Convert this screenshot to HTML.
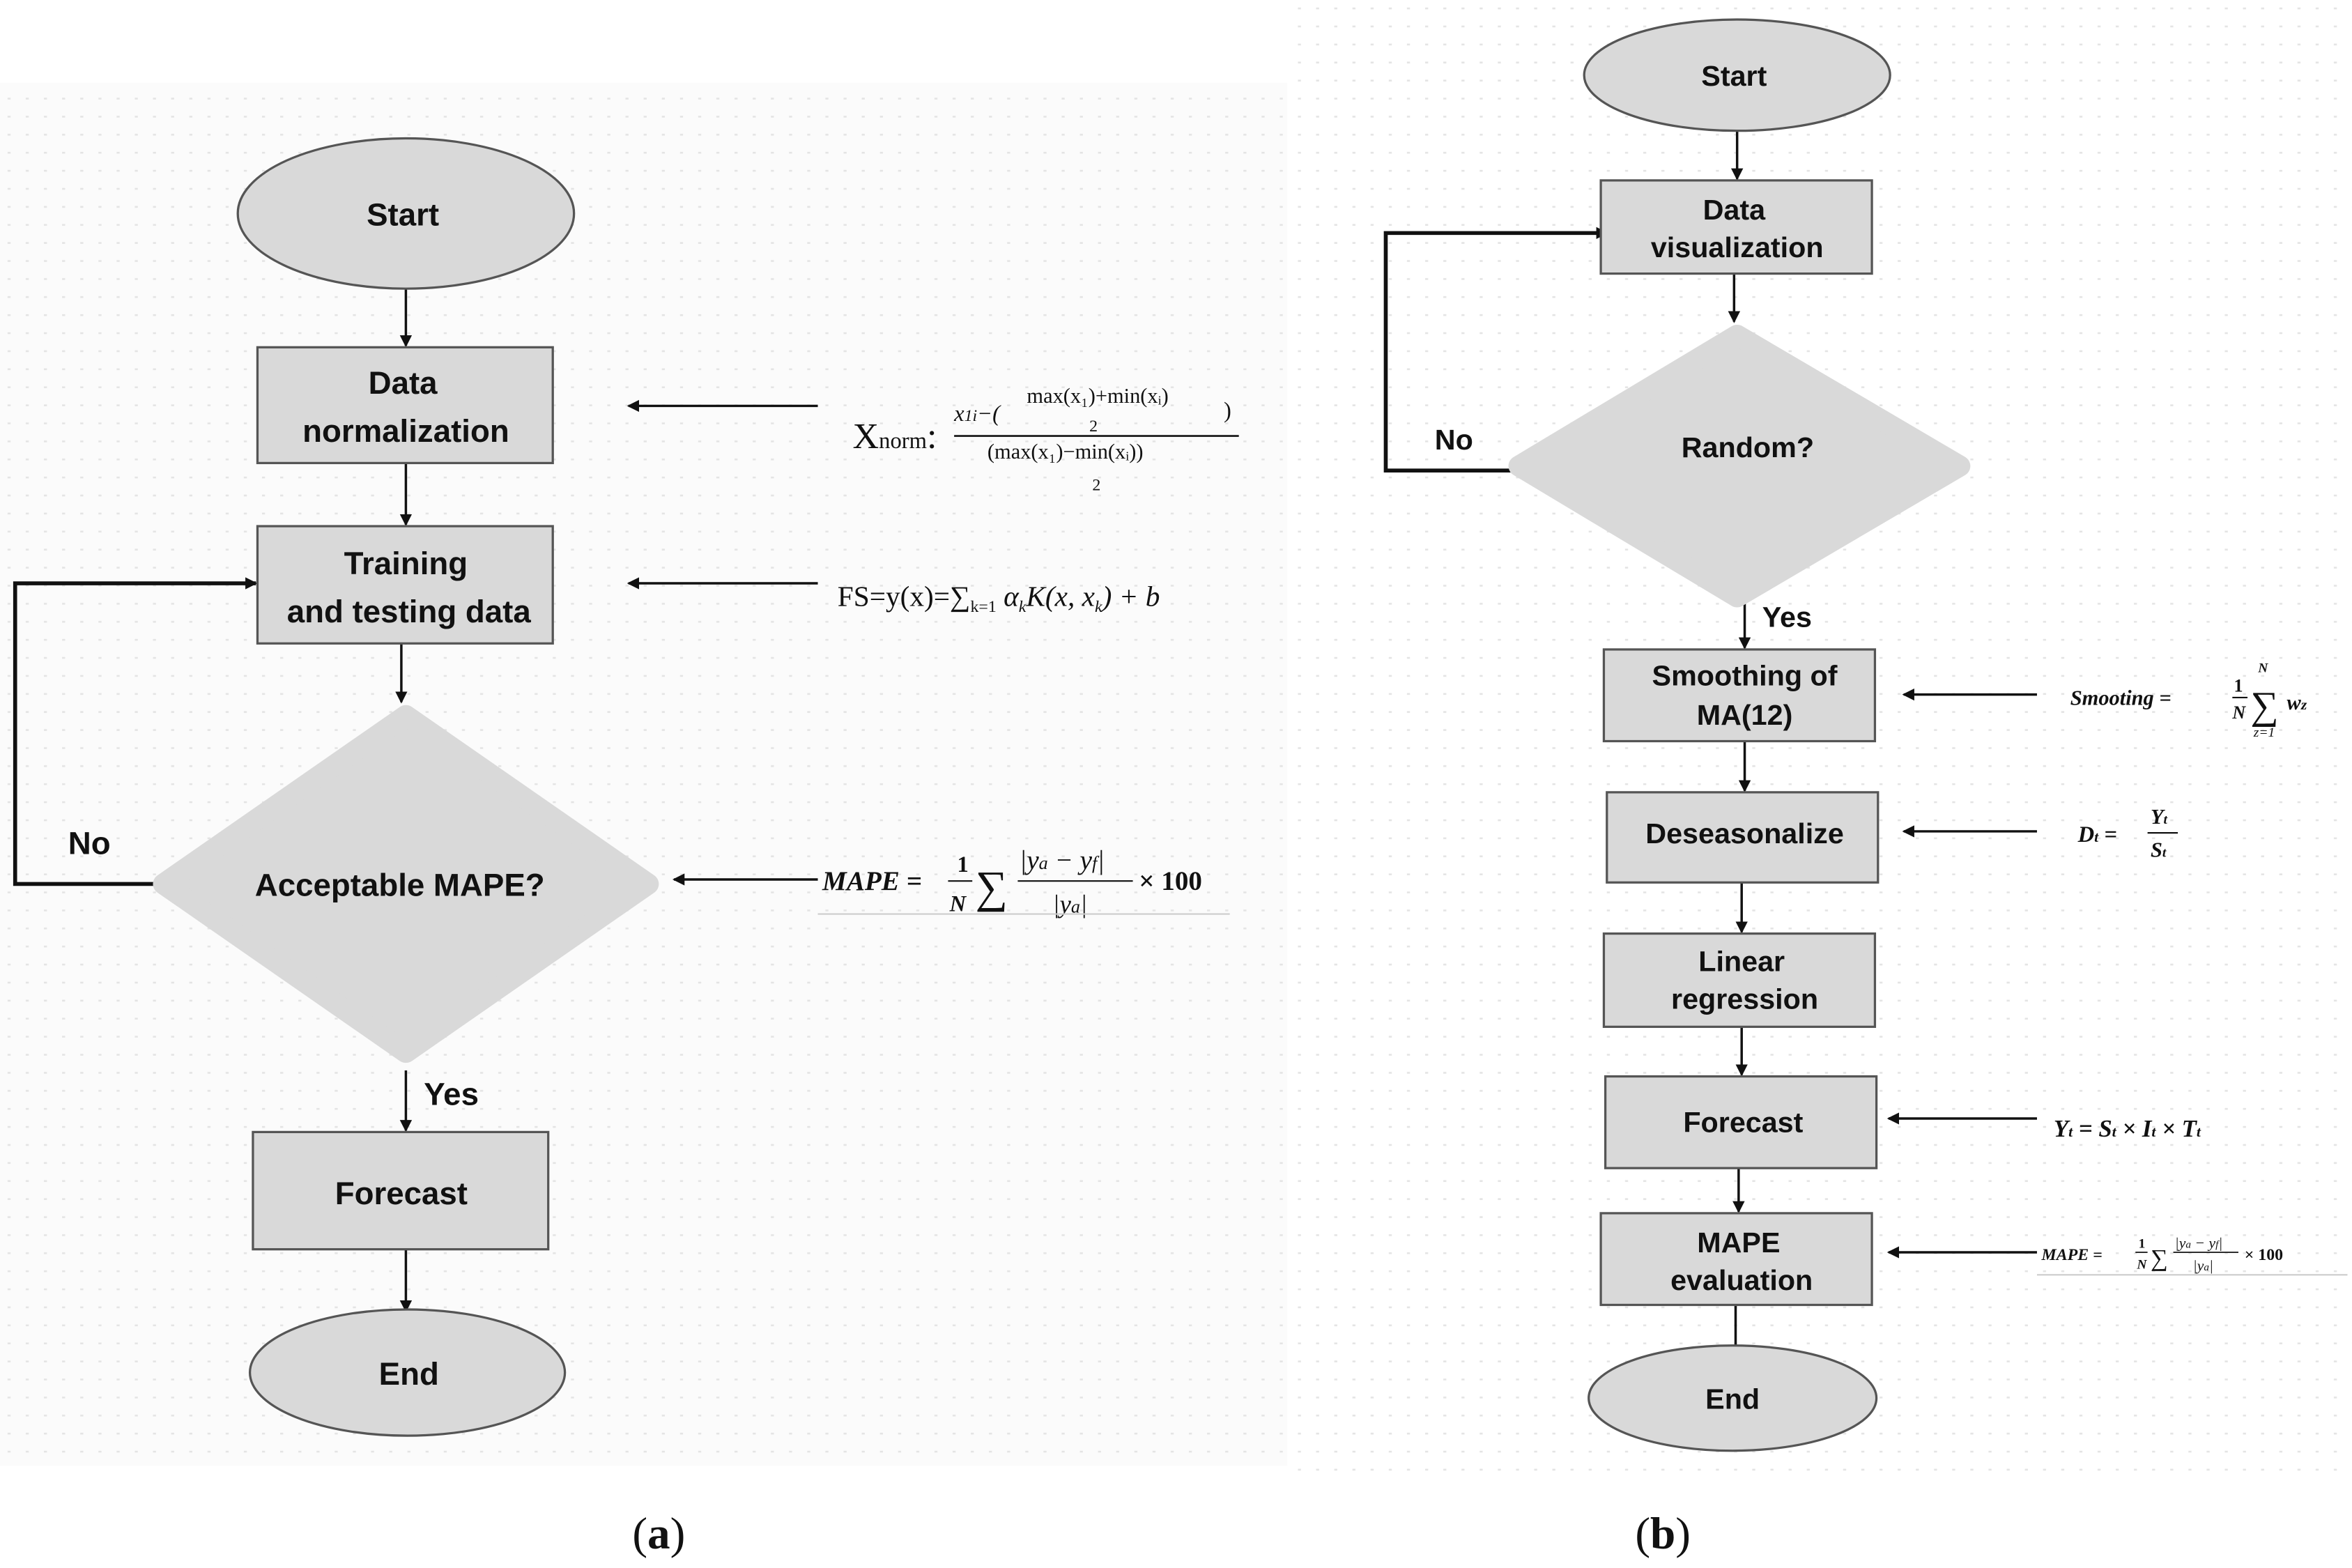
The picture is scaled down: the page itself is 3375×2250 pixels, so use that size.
<!DOCTYPE html>
<html><head><meta charset="utf-8"><style>
html,body{margin:0;padding:0;background:#fff}
svg{display:block}
.t{font-family:"Liberation Sans",sans-serif;font-weight:bold;fill:#111;text-anchor:middle}
.m{font-family:"Liberation Serif",serif;fill:#111}
</style></head><body>
<svg width="3375" height="2250" viewBox="0 0 1553 1043" preserveAspectRatio="none" xmlns="http://www.w3.org/2000/svg">
<defs>
<pattern id="d" width="12" height="12" patternUnits="userSpaceOnUse"><rect x="5" y="5" width="2" height="1.2" fill="#e4e4e4"/></pattern>
<marker id="a" markerWidth="8" markerHeight="8" refX="7" refY="4" orient="auto" markerUnits="userSpaceOnUse"><path d="M0,0 L8,4 L0,8 z" fill="#111"/></marker>
</defs>
<rect x="0" y="55" width="850" height="920" fill="#fbfbfb"/>
<rect x="0" y="55" width="850" height="920" fill="url(#d)"/>
<rect x="855" y="0" width="698" height="980" fill="url(#d)"/>
<g stroke="#111" stroke-width="1.6" fill="none" marker-end="url(#a)">
<line x1="268" y1="192" x2="268" y2="230"/>
<line x1="268" y1="308" x2="268" y2="349"/>
<line x1="265" y1="428" x2="265" y2="467"/>
<line x1="268" y1="712" x2="268" y2="752"/>
<line x1="268" y1="831" x2="268" y2="872"/>
<line x1="540" y1="270" x2="415" y2="270"/>
<line x1="540" y1="388" x2="415" y2="388"/>
<line x1="540" y1="585" x2="445" y2="585"/>
<line x1="1147" y1="87" x2="1147" y2="119"/>
<line x1="1145" y1="182" x2="1145" y2="214"/>
<line x1="1152" y1="400" x2="1152" y2="431"/>
<line x1="1152" y1="493" x2="1152" y2="526"/>
<line x1="1150" y1="587" x2="1150" y2="620"/>
<line x1="1150" y1="683" x2="1150" y2="715"/>
<line x1="1148" y1="777" x2="1148" y2="806"/>
<line x1="1146" y1="868" x2="1146" y2="904"/>
<line x1="1345" y1="462" x2="1257" y2="462"/>
<line x1="1345" y1="553" x2="1257" y2="553"/>
<line x1="1345" y1="744" x2="1247" y2="744"/>
<line x1="1345" y1="833" x2="1247" y2="833"/>
<polyline points="105,588 10,588 10,388 169,388" stroke-width="2.6"/>
<polyline points="1003,313 915,313 915,155 1061,155" stroke-width="2.6"/>
</g>
<g fill="#d9d9d9" stroke="#555" stroke-width="1.5">
<ellipse cx="268" cy="142" rx="111" ry="50"/>
<rect x="170" y="231" width="195" height="77"/>
<rect x="170" y="350" width="195" height="78"/>
<rect x="167" y="753" width="195" height="78"/>
<ellipse cx="269" cy="913" rx="104" ry="42"/>
<ellipse cx="1147" cy="50" rx="101" ry="37"/>
<rect x="1057" y="120" width="179" height="62"/>
<rect x="1059" y="432" width="179" height="61"/>
<rect x="1061" y="527" width="179" height="60"/>
<rect x="1059" y="621" width="179" height="62"/>
<rect x="1060" y="716" width="179" height="61"/>
<rect x="1057" y="807" width="179" height="61"/>
<ellipse cx="1144" cy="930" rx="95" ry="35"/>
</g>
<g fill="#d9d9d9" stroke="#d9d9d9" stroke-width="14" stroke-linejoin="round">
<polygon points="268,476 428,588 268,700 108,588"/>
<polygon points="1147,223 1294,310 1147,397 1003,310"/>
</g>
<g class="t" font-size="21">
<text x="266" y="150">Start</text>
<text x="266" y="262">Data</text>
<text x="268" y="294">normalization</text>
<text x="268" y="382">Training</text>
<text x="270" y="414">and testing data</text>
<text x="264" y="596">Acceptable MAPE?</text>
<text x="265" y="801">Forecast</text>
<text x="270" y="921">End</text>
<text x="59" y="568">No</text>
<text x="298" y="735">Yes</text>
</g>
<g class="t" font-size="19">
<text x="1145" y="57">Start</text>
<text x="1145" y="146">Data</text>
<text x="1147" y="171">visualization</text>
<text x="1154" y="304">Random?</text>
<text x="960" y="299">No</text>
<text x="1180" y="417">Yes</text>
<text x="1152" y="456">Smoothing of</text>
<text x="1152" y="482">MA(12)</text>
<text x="1152" y="561">Deseasonalize</text>
<text x="1150" y="646">Linear</text>
<text x="1152" y="671">regression</text>
<text x="1151" y="753">Forecast</text>
<text x="1148" y="833">MAPE</text>
<text x="1150" y="858">evaluation</text>
<text x="1144" y="937">End</text>
</g>
<g class="m">
<text x="563" y="298" font-size="24">X<tspan font-size="15">norm</tspan>:</text>
<text x="630" y="280" font-size="15" font-style="italic">x<tspan font-size="11">1i</tspan>−(</text>
<text x="678" y="268" font-size="14">max(x₁)+min(xᵢ)</text>
<text x="722" y="287" font-size="11" text-anchor="middle">2</text>
<text x="808" y="278" font-size="15">)</text>
<line x1="630" y1="290" x2="818" y2="290" stroke="#111" stroke-width="1.2"/>
<text x="652" y="305" font-size="14">(max(x₁)−min(xᵢ))</text>
<text x="724" y="326" font-size="11" text-anchor="middle">2</text>
<text x="553" y="403" font-size="19">FS=y(x)=∑<tspan font-size="11" dy="4">k=1</tspan><tspan dy="-4" font-style="italic"> α<tspan font-size="11" dy="4">k</tspan><tspan dy="-4">K(x, x</tspan><tspan font-size="11" dy="4">k</tspan><tspan dy="-4">) + b</tspan></tspan></text>
<text x="543" y="592" font-size="18" font-weight="bold" font-style="italic">MAPE = </text>
<text x="632" y="580" font-size="15" font-weight="bold">1</text>
<line x1="626" y1="586" x2="642" y2="586" stroke="#111"/>
<text x="627" y="606" font-size="15" font-weight="bold" font-style="italic">N</text>
<text x="644" y="600" font-size="30">∑</text>
<text x="673" y="578" font-size="18" font-style="italic">|y<tspan font-size="12">a</tspan> − y<tspan font-size="12">f</tspan>|</text>
<line x1="672" y1="586" x2="748" y2="586" stroke="#111"/>
<text x="695" y="607" font-size="17" font-style="italic">|y<tspan font-size="12">a</tspan>|</text>
<text x="752" y="592" font-size="18" font-weight="bold">× 100</text>
<line x1="540" y1="608" x2="812" y2="608" stroke="#ccc"/>
<text x="1367" y="469" font-size="14" font-weight="bold" font-style="italic">Smooting =</text>
<text x="1475" y="460" font-size="12" font-weight="bold">1</text>
<line x1="1474" y1="464" x2="1484" y2="464" stroke="#111"/>
<text x="1474" y="478" font-size="12" font-weight="bold" font-style="italic">N</text>
<text x="1486" y="478" font-size="26">∑</text>
<text x="1491" y="447" font-size="9" font-weight="bold" font-style="italic">N</text>
<text x="1488" y="490" font-size="9" font-style="italic">z=1</text>
<text x="1510" y="472" font-size="14" font-weight="bold" font-style="italic">w<tspan font-size="10">z</tspan></text>
<text x="1372" y="560" font-size="15" font-weight="bold" font-style="italic">D<tspan font-size="10">t</tspan> =</text>
<text x="1420" y="548" font-size="14" font-weight="bold" font-style="italic">Y<tspan font-size="9">t</tspan></text>
<line x1="1418" y1="554" x2="1438" y2="554" stroke="#111"/>
<text x="1420" y="570" font-size="14" font-weight="bold" font-style="italic">S<tspan font-size="9">t</tspan></text>
<text x="1356" y="756" font-size="16" font-weight="bold" font-style="italic">Y<tspan font-size="10">t</tspan> = S<tspan font-size="10">t</tspan> × I<tspan font-size="10">t</tspan> × T<tspan font-size="10">t</tspan></text>
<text x="1348" y="838" font-size="11" font-weight="bold" font-style="italic">MAPE =</text>
<text x="1412" y="830" font-size="9" font-weight="bold">1</text>
<line x1="1410" y1="833" x2="1418" y2="833" stroke="#111" stroke-width="0.8"/>
<text x="1411" y="844" font-size="9" font-weight="bold" font-style="italic">N</text>
<text x="1420" y="842" font-size="16">∑</text>
<text x="1436" y="830" font-size="10" font-style="italic">|y<tspan font-size="7">a</tspan> − y<tspan font-size="7">f</tspan>|</text>
<line x1="1435" y1="833" x2="1478" y2="833" stroke="#111" stroke-width="0.8"/>
<text x="1448" y="845" font-size="10" font-style="italic">|y<tspan font-size="7">a</tspan>|</text>
<text x="1482" y="838" font-size="11" font-weight="bold">× 100</text>
<line x1="1345" y1="848" x2="1550" y2="848" stroke="#ccc"/>
<text x="435" y="1030" font-size="30" text-anchor="middle">(<tspan font-weight="bold">a</tspan>)</text>
<text x="1098" y="1030" font-size="30" text-anchor="middle">(<tspan font-weight="bold">b</tspan>)</text>
</g>
</svg>
</body></html>
